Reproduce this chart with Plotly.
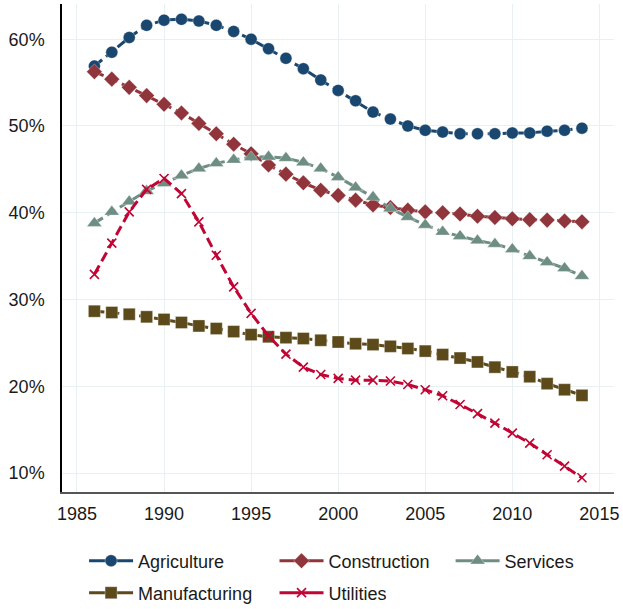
import plotly.graph_objects as go

years = [1986, 1987, 1988, 1989, 1990, 1991, 1992, 1993, 1994, 1995,
         1996, 1997, 1998, 1999, 2000, 2001, 2002, 2003, 2004, 2005,
         2006, 2007, 2008, 2009, 2010, 2011, 2012, 2013, 2014]

agriculture = [56.9, 58.5, 60.2, 61.6, 62.2, 62.3, 62.1, 61.6, 60.9, 60.0,
               58.9, 57.8, 56.6, 55.3, 54.1, 52.9, 51.6, 50.8, 50.0, 49.5,
               49.3, 49.1, 49.1, 49.1, 49.2, 49.2, 49.4, 49.5, 49.75]
construction = [56.25, 55.4, 54.45, 53.5, 52.5, 51.5, 50.3, 49.1, 47.9, 46.8,
                45.5, 44.45, 43.45, 42.6, 42.0, 41.45, 40.9, 40.6, 40.3, 40.1,
                40.0, 39.85, 39.6, 39.45, 39.3, 39.2, 39.15, 39.05, 38.95]
services = [38.8, 40.1, 41.3, 42.5, 43.4, 44.3, 45.1, 45.7, 46.1, 46.4,
            46.45, 46.3, 45.8, 45.1, 44.1, 42.9, 41.8, 40.5, 39.5, 38.6,
            37.8, 37.3, 36.8, 36.4, 35.8, 35.0, 34.3, 33.6, 32.7]
manufacturing = [28.65, 28.5, 28.3, 28.0, 27.7, 27.35, 26.95, 26.65, 26.3, 25.95,
                 25.7, 25.6, 25.5, 25.3, 25.1, 24.9, 24.8, 24.6, 24.35, 24.05,
                 23.65, 23.25, 22.8, 22.2, 21.65, 21.1, 20.3, 19.6, 18.95]
utilities = [32.9, 36.5, 40.1, 42.7, 43.95, 42.2, 38.95, 35.1, 31.45, 28.4,
             25.8, 23.7, 22.2, 21.35, 20.9, 20.7, 20.7, 20.6, 20.2, 19.6,
             18.9, 17.9, 16.85, 15.75, 14.6, 13.45, 12.1, 10.8, 9.45]

x_ticks = [1985, 1990, 1995, 2000, 2005, 2010, 2015]
y_ticks = [10, 20, 30, 40, 50, 60]

series = [
    ("Agriculture", agriculture, "#1a476f", "circle", 12, "legend", 0.040, 0.0788),
    ("Construction", construction, "#90353b", "diamond", 12, "legend2", 0.385, 0.0788),
    ("Services", services, "#6e8e84", "triangle-up", 13, "legend3", 0.704, 0.0788),
    ("Manufacturing", manufacturing, "#5c4a1b", "square", 12, "legend4", 0.040, 0.0263),
    ("Utilities", utilities, "#c10534", "x-thin", 9, "legend5", 0.385, 0.0263),
]

FONT = "Arial, Liberation Sans, sans-serif"

fig = go.Figure()
legends = {}
for name, vals, color, sym, size, leg, lx, ly in series:
    if sym == "x-thin":
        mline = dict(width=1.6, color=color)
    else:
        mline = dict(width=0.6, color="rgba(255,255,255,0.55)")
    marker = dict(symbol=sym, size=size, color=color, line=mline)
    fig.add_trace(go.Scatter(
        x=years, y=vals, name=name, mode="lines+markers",
        line=dict(color=color, width=3, dash="10px,5px"),
        marker=marker, showlegend=False,
    ))
    # legend entry (solid key line, as in the reference)
    fig.add_trace(go.Scatter(
        x=[None], y=[None], name=name, mode="lines+markers",
        line=dict(color=color, width=3),
        marker=marker, legend=leg, showlegend=True,
    ))
    legends[leg] = dict(
        x=lx, y=ly, xanchor="left", yanchor="middle",
        xref="paper", yref="container",
        orientation="v", itemwidth=44,
        font=dict(family=FONT, size=18, color="#1a1a1a"),
        bgcolor="rgba(0,0,0,0)", borderwidth=0,
    )

fig.update_layout(
    width=623, height=609,
    margin=dict(l=62, r=7, t=4, b=117),
    paper_bgcolor="white", plot_bgcolor="white",
    showlegend=True,
    font=dict(family=FONT, size=18, color="#1a1a1a"),
    **legends,
)

fig.update_xaxes(
    range=[1984.14, 2015.84],
    tickvals=x_ticks, ticktext=[str(v) for v in x_ticks],
    showgrid=True, gridcolor="#e8f0f2", gridwidth=1,
    zeroline=False,
    showline=True, linecolor="#555555", linewidth=2,
    ticks="", ticklabelstandoff=4,
    tickfont=dict(family=FONT, size=18, color="#1a1a1a"),
)
fig.update_yaxes(
    range=[7.81, 64.06],
    tickvals=y_ticks, ticktext=[f"{v}%" for v in y_ticks],
    showgrid=True, gridcolor="#e8f0f2", gridwidth=1,
    zeroline=False,
    showline=True, linecolor="#000000", linewidth=1.5,
    ticks="", ticklabelstandoff=12,
    tickfont=dict(family=FONT, size=18, color="#1a1a1a"),
)

fig.write_html("out.html")
